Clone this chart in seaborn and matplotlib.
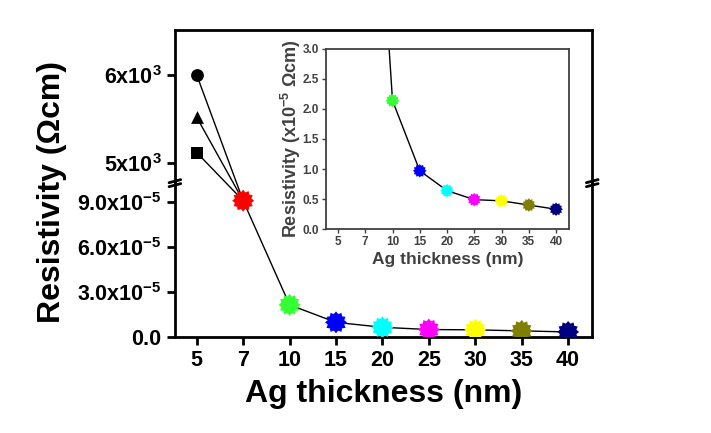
import numpy as np
import pandas as pd
import matplotlib
matplotlib.use("Agg")
import matplotlib.pyplot as plt
import seaborn as sns
from matplotlib.patches import ConnectionPatch
from matplotlib.path import Path

# Data
thickness = ["5", "7", "10", "15", "20", "25", "30", "35", "40"]   # Ag thickness (nm)
thin_values = [6000, 5520, 5120]        # 5 nm films, Ohm cm (three samples)
thin_markers = ["o", "^", "s"]
thick_labels = thickness[1:]
thick_values = [9.1, 2.14, 0.97, 0.64, 0.49, 0.47, 0.40, 0.33]   # x1e-5 Ohm cm
colors = ["#ff0000", "#33ff33", "#0000ff", "#00ffff", "#ff00ff",
          "#ffff00", "#808000", "#000080"]

sns.set_style("ticks")
plt.rcParams["font.family"] = ["Liberation Sans", "DejaVu Sans"]
plt.rcParams["font.weight"] = "bold"
plt.rcParams["text.color"] = "black"
plt.rcParams["mathtext.fontset"] = "custom"
plt.rcParams["mathtext.rm"] = "Liberation Sans:bold"
plt.rcParams["mathtext.it"] = "Liberation Sans:bold"
plt.rcParams["mathtext.bf"] = "Liberation Sans:bold"

pos = {t: i for i, t in enumerate(thickness)}
df = pd.DataFrame({
    "pos": [pos[t] for t in thick_labels],
    "rho": np.array(thick_values) * 1e-5,
    "rho5": thick_values,
    "t": thick_labels,
})
palette = dict(zip(thick_labels, colors))
star = Path.unit_regular_star(12, 0.78)

fig = plt.figure(figsize=(7.11, 4.33), dpi=100)
ax_top = fig.add_axes([0.246, 0.577, 0.587, 0.354])
ax_bot = fig.add_axes([0.246, 0.222, 0.587, 0.355], sharex=ax_top)
for ax in (ax_top, ax_bot):
    ax.patch.set_alpha(0)
    for s in ax.spines.values():
        s.set_linewidth(2.0)
        s.set_color("black")
    ax.tick_params(axis="both", direction="out", length=6, width=2,
                   labelsize=15.5, color="black", labelcolor="black")

# upper segment: 5 nm samples
for v, m in zip(thin_values, thin_markers):
    sns.scatterplot(x=[pos["5"]], y=[v], marker=m, color="black", s=85,
                    linewidth=0, ax=ax_top, zorder=3)
ax_top.set_ylim(4773, 6511)
ax_top.set_yticks([5000, 6000], ["5x10$^3$", "6x10$^3$"])
ax_top.spines["bottom"].set_visible(False)
ax_top.tick_params(axis="x", bottom=False, labelbottom=False)
ax_top.set_xlabel("")
ax_top.set_ylabel("")

# lower segment
sns.lineplot(data=df, x="pos", y="rho", color="black", lw=1, ax=ax_bot, zorder=2)
sns.scatterplot(data=df, x="pos", y="rho", hue="t", palette=palette, marker=star,
                s=250, linewidth=0, legend=False, ax=ax_bot, zorder=3)
ax_bot.set_ylim(0, 10.27e-5)
ax_bot.set_yticks([0, 3e-5, 6e-5, 9e-5],
                  ["0.0", "3.0x10$^{-5}$", "6.0x10$^{-5}$", "9.0x10$^{-5}$"])
ax_bot.spines["top"].set_visible(False)
ax_bot.set_xlim(-0.47, 8.52)
ax_bot.set_xticks(range(len(thickness)), thickness)
ax_bot.set_ylabel("")
ax_bot.set_xlabel("Ag thickness (nm)", fontsize=23, fontweight="bold",
                  color="black", labelpad=6)

# lines joining the 5 nm samples to the 7 nm point
for v in thin_values:
    con = ConnectionPatch(xyA=(pos["5"], v), coordsA=ax_top.transData,
                          xyB=(pos["7"], thick_values[0] * 1e-5), coordsB=ax_bot.transData,
                          color="black", lw=1)
    con.set_zorder(-1)
    fig.add_artist(con)

# axis break marks
kw = dict(transform=ax_bot.transAxes, color="black", lw=2, clip_on=False, zorder=5)
for xb in (0, 1):
    for dy in (-0.013, 0.013):
        ax_bot.plot([xb - 0.014, xb + 0.014], [1 + dy - 0.01, 1 + dy + 0.01], **kw)

fig.text(0.073, 0.557, "Resistivity (Ωcm)", rotation=90, fontsize=23,
         fontweight="bold", color="black", ha="center", va="center")

# inset
ax_in = fig.add_axes([0.4585, 0.471, 0.342, 0.416])
ax_in.set_facecolor("white")
sns.lineplot(data=df, x="pos", y="rho5", color="black", lw=1, ax=ax_in, zorder=2)
sns.scatterplot(data=df, x="pos", y="rho5", hue="t", palette=palette, marker=star,
                s=95, linewidth=0, legend=False, ax=ax_in, zorder=3)
ax_in.set_xlim(-0.44, 8.48)
ax_in.set_ylim(0, 3.0)
ax_in.set_yticks(np.arange(0, 3.01, 0.5))
ax_in.set_yticklabels([f"{v:.1f}" for v in np.arange(0, 3.01, 0.5)])
ax_in.set_xticks(range(len(thickness)), thickness)
for s in ax_in.spines.values():
    s.set_linewidth(1.3)
    s.set_color("#404040")
ax_in.tick_params(axis="both", direction="out", length=3, width=1, labelsize=8.5,
                  color="#404040", labelcolor="#404040", pad=2)
ax_in.set_xlabel("Ag thickness (nm)", fontsize=12.5, fontweight="bold",
                 color="#404040", labelpad=3)
ax_in.set_ylabel("Resistivity (x10$^{-5}$ Ωcm)", fontsize=13, fontweight="bold",
                 color="#404040", labelpad=0)

fig.savefig("out.png", dpi=100, facecolor="white")
